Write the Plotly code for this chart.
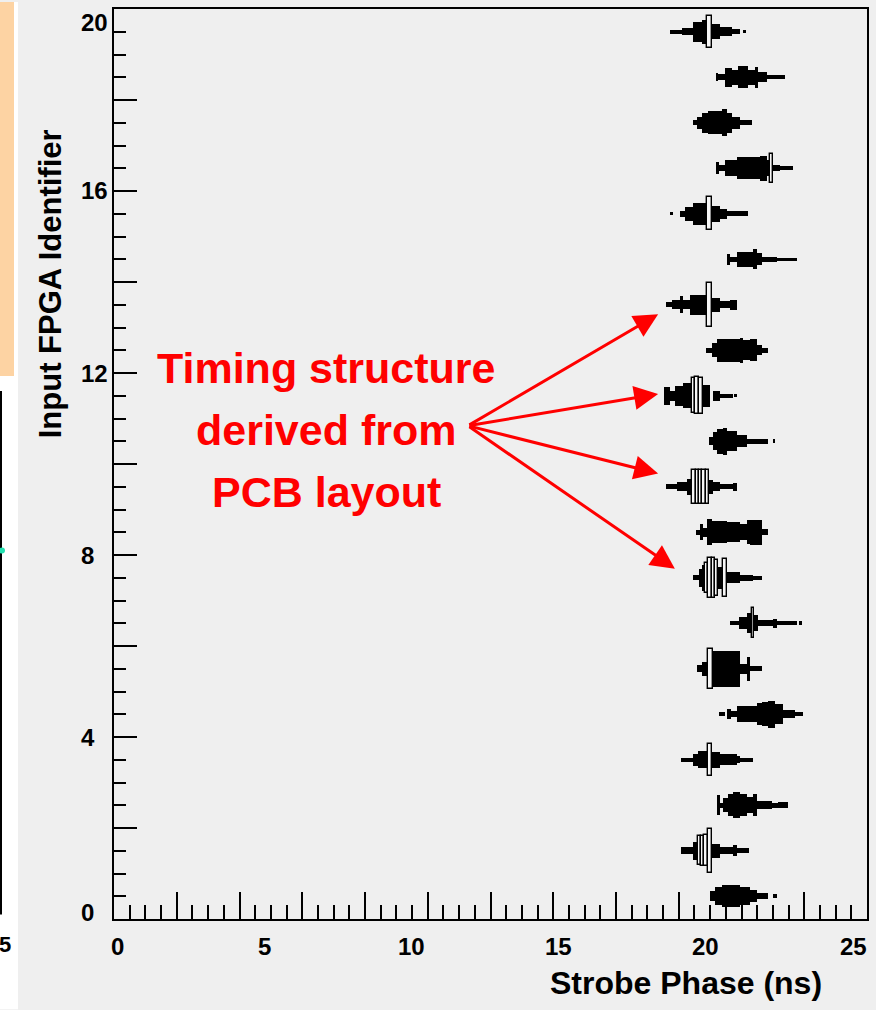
import plotly.graph_objects as go
import numpy as np

# ---------------- data ----------------
fpga_ids = list(range(20))

# bin edges along strobe phase (ns) for each FPGA row (index = FPGA id)
bin_edges_ns = [
    [20.14, 20.31, 20.55, 21.16, 21.50, 21.74, 22.11, 22.28, 22.42],
    [19.16, 19.57, 19.74, 19.84, 19.94, 20.08, 20.21, 20.48, 20.92, 21.06, 21.47],
    [20.38, 20.48, 20.58, 20.75, 20.92, 21.16, 21.40, 21.60, 21.74, 22.25, 22.45, 22.79],
    [19.16, 19.57, 19.74, 20.08, 20.21, 20.48, 21.06, 21.16, 21.60],
    [20.45, 20.65, 20.72, 20.86, 21.06, 21.74, 21.91, 22.11, 22.35, 22.62, 23.03, 23.30],
    [19.70, 19.87, 20.08, 20.25, 21.16, 21.40, 21.50, 21.91],
    [20.82, 21.13, 21.40, 21.57, 21.64, 21.77, 22.28, 22.42, 23.10, 23.17, 23.27],
    [19.57, 19.77, 19.87, 19.97, 20.08, 20.21, 20.31, 20.41, 20.58, 20.72, 21.16, 21.60, 21.91],
    [19.67, 19.80, 19.91, 20.04, 20.21, 20.72, 21.16, 21.40, 21.50, 21.91, 22.11],
    [18.65, 19.02, 19.36, 19.53, 19.65, 19.76, 19.88, 19.99, 20.11, 20.25, 20.48, 20.92, 21.06],
    [20.11, 20.25, 20.38, 20.58, 20.72, 21.06, 21.40, 22.11, 22.28, 22.35],
    [18.58, 18.78, 18.95, 19.23, 19.53, 19.63, 19.77, 19.91, 20.14, 20.25, 20.48, 20.92, 20.96, 21.06],
    [20.01, 20.21, 20.38, 21.16, 21.26, 21.50, 21.74, 21.91, 22.11],
    [18.65, 18.85, 19.12, 19.23, 19.46, 20.04, 20.21, 20.48, 20.82, 21.06],
    [20.72, 20.82, 21.06, 21.60, 21.74, 21.91, 22.42, 23.10],
    [18.78, 18.89, 19.12, 19.29, 19.57, 20.04, 20.21, 20.48, 20.72, 21.43],
    [20.35, 20.45, 20.65, 21.06, 21.84, 22.08, 22.18, 22.28, 22.52, 22.96],
    [19.57, 19.70, 19.87, 20.08, 20.55, 20.72, 20.89, 21.16, 21.57],
    [20.35, 20.41, 20.65, 20.89, 21.09, 21.43, 21.67, 21.77, 22.08, 22.69],
    [18.78, 19.19, 19.57, 19.87, 20.04, 20.21, 20.48, 20.89, 21.16, 21.26, 21.37],
]

# bin contents (arbitrary counts) for each FPGA row
bin_counts = [
    [10, 18, 22, 18, 12, 6, 0, 4],
    [7, 18, 29, 30, 31, 44, 14, 7, 11, 5],
    [20, 5, 14, 22, 26, 22, 16, 22, 8, 5, 6],
    [4, 12, 17, 32, 16, 11, 7, 4],
    [4, 0, 10, 6, 16, 22, 24, 27, 20, 8, 4],
    [7, 14, 40, 36, 10, 24, 5],
    [4, 12, 20, 30, 16, 6, 9, 4, 0, 4],
    [5, 18, 26, 30, 40, 40, 36, 22, 38, 11, 6, 4],
    [5, 16, 9, 26, 22, 20, 16, 24, 25, 6],
    [5, 9, 16, 34, 34, 34, 34, 34, 14, 9, 5, 8],
    [8, 18, 25, 27, 20, 12, 5, 0, 4],
    [18, 10, 20, 25, 35, 37, 36, 22, 0, 10, 4, 0, 3],
    [5, 14, 23, 25, 20, 22, 10, 5],
    [5, 9, 17, 9, 20, 44, 14, 7, 10],
    [11, 5, 15, 20, 12, 5, 3],
    [3, 0, 6, 14, 22, 33, 16, 10, 5],
    [12, 6, 16, 22, 25, 16, 29, 6, 4],
    [5, 12, 20, 23, 27, 20, 12, 5],
    [8, 6, 19, 15, 22, 15, 21, 10, 4],
    [4, 7, 20, 24, 32, 15, 9, 5, 0, 3],
]

x_label_values = [0, 5, 10, 15, 20, 25]
y_label_values = [0, 4, 8, 12, 16, 20]
x_title = "Strobe Phase (ns)"
y_title = "Input FPGA Identifier"
note_lines = ["Timing structure", "derived from", "PCB layout"]
arrow_tips = [(18.38, 13.29), (18.38, 11.54), (18.38, 9.79), (18.95, 7.70)]
arrow_tail = (11.92, 10.84)

# ---------------- layout geometry ----------------
W, H = 876, 1010
L, R_PX, T, B_PX = 114, 867, 7, 919.5          # plot frame in pixels
X0_PX, PX_PER_NS = 117, 29.44                   # where 0 ns sits and scale
X_RANGE = [(L - X0_PX) / PX_PER_NS, (R_PX - X0_PX) / PX_PER_NS]
Y_RANGE = [0, 20]
PX_PER_UNIT_Y = (B_PX - T) / (Y_RANGE[1] - Y_RANGE[0])
COUNT_TO_HEIGHT = 1.0 / PX_PER_UNIT_Y           # one count = one pixel of box height

def pxx(px):
    return (px - L) / (R_PX - L)

def pxy(py):
    return (B_PX - py) / (B_PX - T)

FONT = "Liberation Sans, Arial, sans-serif"
BG = "#efefef"

# ---------------- boxes ----------------
solid = dict(x=[], y=[], base=[], width=[])
hollow = dict(x=[], y=[], base=[], width=[])
for fid, edges, counts in zip(fpga_ids, bin_edges_ns, bin_counts):
    assert len(edges) == len(counts) + 1
    yc = fid + 0.5
    for i, c in enumerate(counts):
        if c <= 0:
            continue
        x0, x1 = edges[i], edges[i + 1]
        h = c * COUNT_TO_HEIGHT
        tgt = hollow if (c >= 29 and (x1 - x0) <= 0.2) else solid
        tgt["x"].append((x0 + x1) / 2)
        tgt["width"].append(x1 - x0)
        tgt["y"].append(h)
        tgt["base"].append(yc - h / 2)

fig = go.Figure()
fig.add_trace(go.Bar(x=solid["x"], y=solid["y"], base=solid["base"], width=solid["width"],
                     marker=dict(color="black", line=dict(width=0)), hoverinfo="skip",
                     showlegend=False))
fig.add_trace(go.Bar(x=hollow["x"], y=hollow["y"], base=hollow["base"], width=hollow["width"],
                     marker=dict(color="#f6f6f6", line=dict(color="black", width=1.4)),
                     hoverinfo="skip", showlegend=False))

# ticks
x_major = list(np.linspace(X_RANGE[0], X_RANGE[1], 13)[1:-1])
x_minor = list(np.linspace(X_RANGE[0], X_RANGE[1], 49)[1:-1])

annotations = []
# y labels
for v in y_label_values:
    py = B_PX - (v - Y_RANGE[0]) * PX_PER_UNIT_Y
    py = min(max(py, 21), 913)
    annotations.append(dict(x=pxx(79), y=pxy(py), xref="paper", yref="paper", text=str(v),
                            xanchor="left", yanchor="middle", showarrow=False,
                            font=dict(family=FONT, size=24, color="black", weight="bold")))
# x labels
for v in x_label_values:
    annotations.append(dict(x=v, y=pxy(947), xref="x", yref="paper", text=str(v),
                            xanchor="center", yanchor="middle", showarrow=False,
                            font=dict(family=FONT, size=24, color="black", weight="bold")))
# axis titles
annotations.append(dict(x=pxx(686), y=pxy(984), xref="paper", yref="paper", text=x_title,
                        showarrow=False, xanchor="center", yanchor="middle",
                        font=dict(family=FONT, size=32, color="black", weight="bold")))
annotations.append(dict(x=pxx(50), y=pxy(283), xref="paper", yref="paper", text=y_title,
                        showarrow=False, xanchor="center", yanchor="middle", textangle=-90,
                        font=dict(family=FONT, size=31, color="black", weight="bold")))
# red note
for line, py in zip(note_lines, [367, 429, 491]):
    annotations.append(dict(x=pxx(326), y=pxy(py), xref="paper", yref="paper", text=line,
                            showarrow=False, xanchor="center", yanchor="middle",
                            font=dict(family=FONT, size=43, color="#ff0000", weight="bold")))
# arrows
for tx, ty in arrow_tips:
    annotations.append(dict(x=tx, y=ty, xref="x", yref="y", ax=arrow_tail[0], ay=arrow_tail[1],
                            axref="x", ayref="y", text="", showarrow=True, arrowhead=2,
                            arrowsize=1.6, arrowwidth=3, arrowcolor="#ff0000"))
# partly visible "5" from the neighbouring panel
annotations.append(dict(x=pxx(-3), y=pxy(945), xref="paper", yref="paper", text="5",
                        showarrow=False, xanchor="left", yanchor="middle",
                        font=dict(family=FONT, size=22, color="black", weight="bold")))

shapes = [
    dict(type="rect", xref="paper", yref="paper", x0=pxx(0), x1=pxx(18), y0=pxy(H), y1=pxy(0),
         fillcolor="white", line=dict(width=0), layer="below"),
    dict(type="rect", xref="paper", yref="paper", x0=pxx(0), x1=pxx(14), y0=pxy(375), y1=pxy(0),
         fillcolor="#fdd3a3", line=dict(width=0), layer="below"),
    dict(type="line", xref="paper", yref="paper", x0=pxx(1), x1=pxx(1), y0=pxy(390), y1=pxy(915),
         line=dict(color="black", width=2)),
    dict(type="circle", xref="paper", yref="paper", x0=pxx(-1), x1=pxx(5), y0=pxy(547), y1=pxy(553),
         fillcolor="#22e0b0", line=dict(width=0)),
]

fig.update_layout(
    width=W, height=H,
    margin=dict(l=L, r=W - R_PX, t=T, b=H - B_PX, pad=0),
    paper_bgcolor=BG, plot_bgcolor=BG,
    barmode="overlay", bargap=0,
    showlegend=False,
    xaxis=dict(range=X_RANGE, showgrid=False, zeroline=False, showline=True, linecolor="black",
               linewidth=2, mirror=True, ticks="inside", tickmode="array", tickvals=x_major,
               ticklen=27, tickwidth=1.6, tickcolor="black", showticklabels=False,
               minor=dict(tickmode="array", tickvals=x_minor, ticks="inside", ticklen=14,
                          tickwidth=1.6, tickcolor="black", showgrid=False)),
    yaxis=dict(range=Y_RANGE, showgrid=False, zeroline=False, showline=True, linecolor="black",
               linewidth=2, mirror=True, ticks="inside", tickmode="linear", tick0=0, dtick=2,
               ticklen=23, tickwidth=2, tickcolor="black", showticklabels=False,
               minor=dict(tickmode="linear", tick0=0, dtick=0.5, ticks="inside", ticklen=12,
                          tickwidth=2, tickcolor="black", showgrid=False)),
    annotations=annotations,
    shapes=shapes,
)

fig.write_html("out.html", config={"displayModeBar": False},
               post_script="document.body.style.margin='0';")
